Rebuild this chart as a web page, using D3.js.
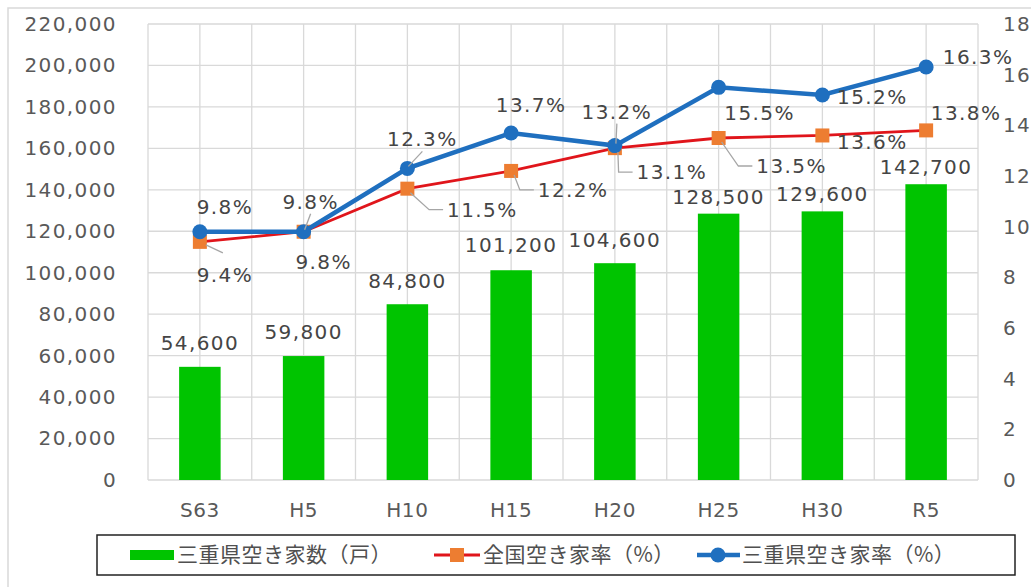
<!DOCTYPE html>
<html>
<head>
<meta charset="utf-8">
<script src="https://cdn.jsdelivr.net/npm/d3@7"></script>
<style>
  body { margin: 0; background: #fff; }
  svg { display: block; }
  .num { font-family: 'DejaVu Sans', Verdana, sans-serif; font-size: 20px; letter-spacing: 1.4px; fill: #595959; }
  .legend text { font-family: 'Noto Sans CJK JP', sans-serif; font-size: 21px; fill: #505050; letter-spacing: 0.5px; }
</style>
</head>
<body>
<div id="chart"></div>
<script>
const WIDTH = 1031
const HEIGHT = 587

// data
const categories = ['S63', 'H5', 'H10', 'H15', 'H20', 'H25', 'H30', 'R5']
const mieVacantHouses = [54600, 59800, 84800, 101200, 104600, 128500, 129600, 142700]
const nationalRate = [9.4, 9.8, 11.5, 12.2, 13.1, 13.5, 13.6, 13.8]
const mieRate = [9.8, 9.8, 12.3, 13.7, 13.2, 15.5, 15.2, 16.3]
const leftTicks = [0, 20000, 40000, 60000, 80000, 100000, 120000, 140000, 160000, 180000, 200000, 220000]
const rightTicks = [0, 2, 4, 6, 8, 10, 12, 14, 16, 18]
const seriesNames = ['三重県空き家数（戸）', '全国空き家率（%）', '三重県空き家率（%）']

// label layout (offsets from the point, leader style)
const barLabelDy = [-24, -24, -23, -25, -23, -17, -17, -17]
const mieLabelPos = [[25, -25, ''], [7, -30, 'up'], [15, -29, 'up'], [20, -28, ''], [2, -34, 'up'], [41, 26, ''], [50, 2, ''], [52, -10, '']]
const natLabelPos = [[25, 33, 'top'], [20, 30, ''], [75, 21, 'down'], [62, 19, 'down'], [57, 24, 'down'], [73, 28, 'down'], [50, 7, ''], [40, -17, '']]

const M = { left: 148, right: 978, top: 24, bottom: 480 }

const svg = d3.select('#chart')
  .append('svg')
  .attr('width', WIDTH)
  .attr('height', HEIGHT)

svg.append('rect')
  .attr('x', 8).attr('y', 8)
  .attr('width', 1100).attr('height', 700)
  .attr('fill', '#fff')
  .attr('stroke', '#d9d9d9')
  .attr('stroke-width', 1.5)

const x = d3.scaleBand()
  .domain(categories)
  .range([M.left, M.right])
const y = d3.scaleLinear()
  .domain([0, 220000])
  .range([M.bottom, M.top])
const y2 = d3.scaleLinear()
  .domain([0, 18])
  .range([M.bottom, M.top])

// grid
const grid = svg.append('g').attr('stroke', '#d9d9d9').attr('stroke-width', 1.3)
grid.selectAll('.h')
  .data(leftTicks)
  .enter()
  .append('line')
  .attr('x1', M.left).attr('x2', M.right)
  .attr('y1', d => y(d)).attr('y2', d => y(d))
const half = x.bandwidth() / 2
grid.selectAll('.v')
  .data(d3.range(categories.length * 2 + 1))
  .enter()
  .append('line')
  .attr('x1', i => M.left + i * half).attr('x2', i => M.left + i * half)
  .attr('y1', M.top).attr('y2', M.bottom)

// axes
const axisLeft = svg.append('g')
  .attr('transform', `translate(${M.left},0)`)
  .call(d3.axisLeft(y).tickValues(leftTicks).tickFormat(d3.format(',')).tickSize(0).tickPadding(31))
const axisRight = svg.append('g')
  .attr('transform', `translate(${M.right},0)`)
  .call(d3.axisRight(y2).tickValues(rightTicks).tickSize(0).tickPadding(25))
const axisBottom = svg.append('g')
  .attr('transform', `translate(0,${M.bottom})`)
  .call(d3.axisBottom(x).tickSize(0).tickPadding(23))
;[axisLeft, axisRight, axisBottom].forEach(g => {
  g.select('.domain').remove()
  g.selectAll('text').attr('class', 'num').attr('font-family', null).attr('font-size', null).attr('fill', null)
})
axisBottom.selectAll('text').style('letter-spacing', '0.6px')

// bars
const barW = x.bandwidth() * 0.4
svg.selectAll('.bar')
  .data(mieVacantHouses)
  .enter()
  .append('rect')
  .attr('x', (d, i) => x(categories[i]) + half - barW / 2)
  .attr('y', d => y(d))
  .attr('width', barW)
  .attr('height', d => y(0) - y(d))
  .attr('fill', '#00c400')

svg.selectAll('.bar-label')
  .data(mieVacantHouses)
  .enter()
  .append('text')
  .attr('class', 'num')
  .attr('x', (d, i) => x(categories[i]) + half)
  .attr('y', (d, i) => y(d) + barLabelDy[i])
  .attr('text-anchor', 'middle')
  .attr('dy', '0.35em')
  .style('fill', '#454545')
  .text(d => d3.format(',')(d))

// lines
const cx = i => x(categories[i]) + half
const line = d3.line()
  .x((d, i) => cx(i))
  .y(d => y2(d))

svg.append('path')
  .datum(nationalRate)
  .attr('d', line)
  .attr('fill', 'none')
  .attr('stroke', '#e0151b')
  .attr('stroke-width', 2.8)
svg.selectAll('.nat-mark')
  .data(nationalRate)
  .enter()
  .append('rect')
  .attr('x', (d, i) => cx(i) - 7)
  .attr('y', d => y2(d) - 7)
  .attr('width', 14).attr('height', 14)
  .attr('fill', '#ed7d31')

svg.append('path')
  .datum(mieRate)
  .attr('d', line)
  .attr('fill', 'none')
  .attr('stroke', '#1f6fbf')
  .attr('stroke-width', 4.5)
svg.selectAll('.mie-mark')
  .data(mieRate)
  .enter()
  .append('circle')
  .attr('cx', (d, i) => cx(i))
  .attr('cy', d => y2(d))
  .attr('r', 7.5)
  .attr('fill', '#1f6fbf')

// rate labels with leader lines
function rateLabels(values, pos) {
  const g = svg.append('g')
  values.forEach((v, i) => {
    const px = cx(i), py = y2(v)
    const tx = px + pos[i][0], ty = py + pos[i][1]
    const label = g.append('text')
      .attr('class', 'num')
      .attr('x', tx).attr('y', ty)
      .attr('text-anchor', 'middle')
      .attr('dy', '0.35em')
      .style('fill', '#454545')
      .text(v.toFixed(1) + '%')
    const w = label.node().getComputedTextLength()
    const lead = g.append('g')
      .attr('fill', 'none')
      .attr('stroke', '#a6a6a6')
      .attr('stroke-width', 1.3)
    if (pos[i][2] === 'down') {
      const lx = tx - w / 2 - 4
      lead.append('polyline')
        .attr('points', [[px + 3, py + 4], [lx - 14, ty], [lx, ty]].join(' '))
    } else if (pos[i][2] === 'up') {
      lead.append('line')
        .attr('x1', tx).attr('y1', ty + 12)
        .attr('x2', px + 1).attr('y2', py - 2)
    } else if (pos[i][2] === 'top') {
      lead.append('line')
        .attr('x1', px + 6).attr('y1', py + 3)
        .attr('x2', tx - 2).attr('y2', ty - 22)
    }
  })
}
rateLabels(mieRate, mieLabelPos)
rateLabels(nationalRate, natLabelPos)

// legend
const legend = svg.append('g').attr('class', 'legend')
legend.append('rect')
  .attr('x', 97).attr('y', 535)
  .attr('width', 918).attr('height', 40)
  .attr('fill', '#fff')
  .attr('stroke', '#222')
  .attr('stroke-width', 1.5)
const ly = 555
legend.append('rect')
  .attr('x', 130).attr('y', ly - 5)
  .attr('width', 44).attr('height', 10)
  .attr('fill', '#00c400')
legend.append('line')
  .attr('x1', 434).attr('x2', 480).attr('y1', ly).attr('y2', ly)
  .attr('stroke', '#e0151b').attr('stroke-width', 2.8)
legend.append('rect')
  .attr('x', 450).attr('y', ly - 7).attr('width', 14).attr('height', 14)
  .attr('fill', '#ed7d31')
legend.append('line')
  .attr('x1', 697).attr('x2', 740).attr('y1', ly).attr('y2', ly)
  .attr('stroke', '#1f6fbf').attr('stroke-width', 4.5)
legend.append('circle')
  .attr('cx', 718).attr('cy', ly).attr('r', 7.5)
  .attr('fill', '#1f6fbf')
legend.selectAll('.lt')
  .data(seriesNames)
  .enter()
  .append('text')
  .attr('x', (d, i) => [177, 483, 742][i])
  .attr('y', ly)
  .attr('dy', '0.35em')
  .text(d => d)
</script>
</body>
</html>
